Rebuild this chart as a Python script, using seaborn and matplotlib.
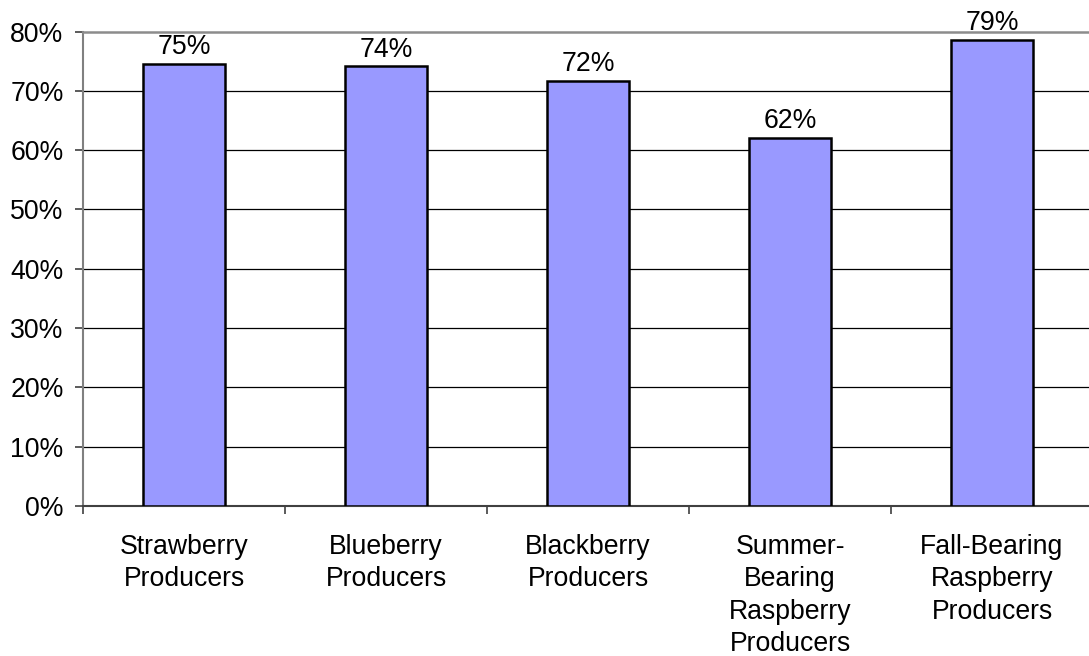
import matplotlib
matplotlib.use("Agg")
import matplotlib.pyplot as plt
import seaborn as sns
import numpy as np
from matplotlib.ticker import FuncFormatter, FixedLocator

categories = ["Strawberry\nProducers", "Blueberry\nProducers", "Blackberry\nProducers",
              "Summer-\nBearing\nRaspberry\nProducers", "Fall-Bearing\nRaspberry\nProducers"]
values = [74.6, 74.1, 71.7, 62.1, 78.6]
labels = ["75%", "74%", "72%", "62%", "79%"]

sns.set_style("white")
plt.rcParams['font.family'] = ['Liberation Sans', 'DejaVu Sans']
plt.rcParams['text.color'] = 'black'
plt.rcParams['xtick.color'] = 'black'
plt.rcParams['ytick.color'] = 'black'

FS = 19.2

fig = plt.figure(figsize=(10.89, 6.56), dpi=100)
W, H = 1089, 656
ax = fig.add_axes([83 / W, 1 - 506 / H, 1010 / W, (506 - 31.5) / H])

sns.barplot(x=categories, y=values, color="#9999FF", edgecolor="black",
            linewidth=1.8, width=0.41, errorbar=None, saturation=1, ax=ax, zorder=3)

ax.set_xlim(-0.5, 4.5)
ax.set_ylim(0, 80)
ax.set_yticks(np.arange(0, 81, 10))
ax.yaxis.set_major_formatter(FuncFormatter(lambda v, p: f"{v:.0f}%"))

for y in range(10, 80, 10):
    ax.axhline(y, color="black", linewidth=0.9, zorder=1)

ax.spines["right"].set_visible(False)
ax.spines["top"].set_visible(True)
ax.spines["top"].set_color("#8c8c8c")
ax.spines["top"].set_linewidth(1.8)
ax.spines["left"].set_color("#808080")
ax.spines["left"].set_linewidth(1.5)
ax.spines["bottom"].set_color("#404040")
ax.spines["bottom"].set_linewidth(1.5)

ax.tick_params(axis="y", which="major", length=6, width=1.2, color="#404040",
               labelsize=FS, pad=8, left=True, direction="out", labelcolor="black")
ax.tick_params(axis="x", which="major", length=0, labelsize=FS, pad=20, bottom=True,
               labelcolor="black")
for t in ax.get_xticklabels():
    t.set_linespacing(1.32)
ax.xaxis.set_minor_locator(FixedLocator([-0.5, 0.5, 1.5, 2.5, 3.5, 4.5]))
ax.tick_params(axis="x", which="minor", length=6, width=1.2, color="#404040",
               bottom=True, direction="out")

for i, (v, lab) in enumerate(zip(values, labels)):
    ax.annotate(lab, (i, v), xytext=(0, 2.5), textcoords="offset points",
                ha="center", va="bottom", fontsize=FS, color="black", annotation_clip=False)

ax.set_xlabel("")
ax.set_ylabel("")
fig.savefig("out.png", dpi=100, facecolor="white")
